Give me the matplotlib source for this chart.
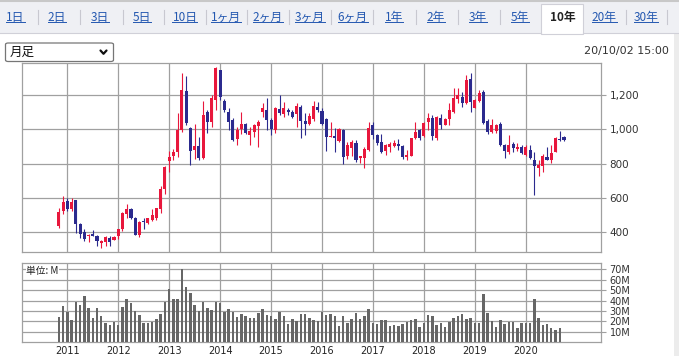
import numpy as np
import matplotlib
matplotlib.use("Agg")
import matplotlib.pyplot as plt
from matplotlib.patches import Rectangle, FancyBboxPatch
from matplotlib.lines import Line2D

# monthly candles, Nov 2010 .. Oct 2020
opens = [439, 523, 582, 537, 588, 449, 404, 376, 390, 380, 337, 341,
         366, 357, 380, 416, 504, 533, 484, 386, 468, 451, 470, 484,
         533, 651, 814, 843, 867, 994, 1223, 1008, 878, 902, 831, 1098,
         1043, 1171, 1343, 1167, 1098, 1053, 945, 1004, 1029, 968, 984, 1020,
         1098, 1112, 1053, 998, 1117, 1086, 1112, 1098, 1086, 1131, 1047, 1029,
         1059, 1131, 1108, 1059, 955, 961, 929, 998, 843, 890, 921, 831,
         831, 882, 1027, 969, 925, 876, 896, 900, 916, 902, 839, 843,
         949, 994, 961, 1043, 1063, 949, 1063, 1027, 1059, 1102, 1176, 1190,
         1151, 1294, 1125, 1165, 1220, 1047, 984, 988, 1033, 910, 866, 916,
         886, 896, 851, 882, 823, 772, 784, 839, 818, 870, 945, 955]
highs = [543, 612, 602, 602, 590, 455, 416, 392, 412, 386, 357, 376,
         376, 380, 419, 519, 563, 543, 490, 465, 484, 484, 533, 543,
         667, 784, 876, 886, 1092, 1327, 1308, 1014, 1033, 955, 1165, 1112,
         1200, 1363, 1347, 1176, 1121, 1063, 1014, 1102, 1039, 1014, 1033, 1053,
         1151, 1180, 1063, 1131, 1200, 1161, 1121, 1112, 1151, 1141, 1092, 1092,
         1165, 1161, 1121, 1067, 1043, 1008, 1008, 1004, 925, 935, 935, 847,
         896, 1043, 1043, 974, 974, 916, 925, 935, 945, 906, 882, 949,
         1043, 1004, 1043, 1092, 1082, 1078, 1086, 1063, 1151, 1239, 1239, 1220,
         1314, 1327, 1176, 1229, 1229, 1059, 1059, 1033, 1043, 916, 965, 925,
         921, 906, 906, 910, 870, 818, 857, 896, 910, 955, 988, 961]
lows = [425, 504, 523, 523, 396, 367, 347, 341, 376, 321, 308, 321,
        317, 355, 361, 406, 484, 478, 386, 372, 416, 445, 465, 470,
        510, 621, 749, 818, 837, 984, 1027, 792, 827, 821, 827, 978,
        1014, 1112, 1171, 1102, 994, 931, 910, 974, 974, 910, 955, 896,
        1073, 998, 968, 978, 1082, 1073, 1082, 1067, 1014, 949, 965, 1023,
        1047, 1102, 1023, 876, 955, 867, 925, 798, 827, 847, 812, 802,
        772, 876, 945, 906, 863, 851, 870, 896, 880, 827, 818, 843,
        941, 935, 955, 994, 935, 935, 1004, 1023, 1027, 1092, 1151, 1131,
        1145, 1098, 1121, 1157, 1033, 974, 978, 980, 900, 831, 857, 866,
        876, 857, 843, 827, 616, 729, 749, 823, 804, 866, 929, 931]
closes = [519, 576, 533, 576, 445, 392, 361, 386, 380, 347, 349, 372,
          341, 372, 416, 510, 537, 484, 386, 459, 459, 480, 498, 539,
          651, 778, 841, 870, 994, 1229, 1039, 874, 902, 831, 1082, 1043,
          1180, 1357, 1186, 1112, 1043, 939, 994, 1033, 980, 990, 1023, 1043,
          1121, 1053, 1004, 1121, 1092, 1121, 1098, 1073, 1137, 1047, 1033, 1078,
          1137, 1115, 1033, 955, 960, 949, 1004, 837, 906, 925, 821, 843,
          886, 1008, 969, 921, 866, 906, 916, 919, 900, 841, 851, 949,
          984, 949, 1037, 1067, 961, 1073, 1027, 1059, 1112, 1180, 1200, 1151,
          1288, 1157, 1171, 1210, 1039, 984, 1023, 1023, 906, 872, 906, 892,
          896, 863, 896, 831, 788, 792, 847, 823, 863, 949, 935, 935]
# volume in millions of shares
volume = [24.6, 34.8, 29.4, 21.4, 39.0, 35.8, 44.4, 33.2, 23.6, 33.2, 25.2, 18.8,
          16.6, 19.8, 16.9, 34.2, 41.5, 38.0, 30.0, 26.2, 18.8, 18.8, 19.8, 22.4,
          27.2, 39.0, 51.1, 41.5, 41.5, 70.3, 53.0, 47.3, 35.8, 30.0, 39.0, 33.2,
          31.0, 39.0, 38.0, 29.4, 32.0, 29.4, 24.6, 27.2, 25.2, 23.6, 23.6, 28.4,
          32.0, 26.2, 25.2, 22.4, 29.4, 25.2, 17.6, 22.4, 20.4, 27.2, 27.2, 23.6,
          21.4, 20.4, 29.4, 26.2, 27.2, 25.2, 16.0, 25.2, 18.8, 22.4, 28.4, 22.4,
          25.2, 32.0, 18.8, 17.6, 21.4, 21.4, 16.0, 16.6, 16.0, 17.6, 19.2, 21.4,
          22.4, 15.0, 18.8, 26.2, 25.2, 16.6, 18.8, 15.0, 19.2, 23.6, 25.2, 27.2,
          22.4, 23.6, 18.8, 18.8, 46.3, 28.4, 20.4, 15.0, 21.4, 17.6, 19.2, 19.2,
          14.0, 18.8, 18.2, 18.8, 41.5, 23.6, 16.6, 17.6, 14.0, 11.8, 14.0, 0.4]
years = ["2011", "2012", "2013", "2014", "2015", "2016", "2017", "2018", "2019", "2020"]
price_ticks = [400, 600, 800, 1000, 1200]
vol_ticks = [10, 20, 30, 40, 50, 60, 70]
tabs = ["1日", "2日", "3日", "5日", "10日", "1ヶ月", "2ヶ月", "3ヶ月", "6ヶ月",
        "1年", "2年", "3年", "5年", "10年", "20年", "30年"]
selected_tab = "10年"

W, H = 679, 356
def fx(px): return px / W
def fy(py): return 1 - py / H

UP, DOWN, GRID = "#e8173c", "#2b2a8e", "#a0a0a0"
jp = ["Noto Sans CJK JP", "DejaVu Sans"]

fig = plt.figure(figsize=(W / 100, H / 100), dpi=100)
fig.patch.set_facecolor("white")

# tab strip
fig.patches.append(Rectangle((0, fy(33)), 1, fy(0) - fy(33), transform=fig.transFigure,
                             facecolor="#eff0f4", edgecolor="none", zorder=0))
fig.add_artist(Line2D([0, 1], [fy(0.5), fy(0.5)], color="#c8c8c8", lw=1.5))
fig.add_artist(Line2D([0, fx(541)], [fy(33), fy(33)], color="#d0d0d8", lw=0.8))
fig.add_artist(Line2D([fx(583), 1], [fy(33), fy(33)], color="#d0d0d8", lw=0.8))
fig.patches.append(Rectangle((fx(541), fy(34)), fx(42), fy(4) - fy(34), transform=fig.transFigure,
                             facecolor="white", edgecolor="#d0d0d8", lw=0.8, zorder=1))
centers = [15.6, 57, 100, 142, 185, 225.6, 268, 310, 352.5, 394, 436, 478, 520, 562.5, 604, 646]
seps = [38, 80, 122.5, 163.7, 205.7, 247, 289, 331, 373, 415.7, 457.7, 500, 625.7, 667]
tab_texts = []
for lab, cx in zip(tabs, centers):
    if lab == selected_tab:
        fig.text(fx(cx), fy(17), lab, ha="center", va="center", fontsize=8.5,
                 family=jp, weight="bold", color="#222222")
    else:
        t = fig.text(fx(cx), fy(17), lab, ha="center", va="center", fontsize=8.5,
                     family=jp, color="#2458b0")
        tab_texts.append(t)
for sx in seps:
    fig.add_artist(Line2D([fx(sx), fx(sx)], [fy(10), fy(24)], color="#c8c8d0", lw=0.8))
fig.patches.append(Rectangle((fx(674), 0), fx(5), fy(34), transform=fig.transFigure,
                             facecolor="#ececec", edgecolor="none", zorder=0))

# dropdown and date
fig.patches.append(FancyBboxPatch((fx(5.5), fy(61.5)), fx(108), fy(43) - fy(61.5),
                                  boxstyle="round,pad=0,rounding_size=0.004",
                                  transform=fig.transFigure, facecolor="white",
                                  edgecolor="#767676", lw=0.9))
fig.text(fx(10), fy(52), "月足", ha="left", va="center", fontsize=9, family=jp, color="#111111")
fig.add_artist(Line2D([fx(100.5), fx(103.5), fx(106.5)], [fy(50.5), fy(53.8), fy(50.5)],
                      color="#111111", lw=1.6, solid_capstyle="round"))
fig.text(fx(669), fy(51), "20/10/02 15:00", ha="right", va="center", fontsize=8, color="#333333")

# price panel
x = np.arange(len(opens))
o, h, l, c = map(np.array, (opens, highs, lows, closes))
colors = np.where(c >= o, UP, DOWN)
ax = fig.add_axes([fx(21.7), fy(252.3), fx(600.5) - fx(21.7), fy(62.5) - fy(252.3)])
ax.vlines(x, l, h, colors=colors, lw=0.8, zorder=3)
body = np.maximum(np.abs(c - o), 6)
ax.bar(x, body, bottom=np.minimum(o, c), width=0.72, color=colors, lw=0, zorder=4)
ax.set_xlim(-8.74, 127.6)
ax.set_ylim(283, 1389)
year_x = np.arange(2, 120, 12)
ax.set_xticks(year_x)
ax.set_xticklabels([])
ax.tick_params(axis="x", length=0)
ax.yaxis.tick_right()
ax.set_yticks(price_ticks)
ax.set_yticklabels([f"{v:,}" for v in price_ticks])
ax.tick_params(axis="y", length=3.6, width=0.8, color=GRID, labelsize=7.5,
               labelcolor="#333333", pad=3)
ax.grid(True, color=GRID, lw=0.9)
ax.set_axisbelow(True)
for s in ax.spines.values():
    s.set_color(GRID)
    s.set_linewidth(0.9)

# volume panel
vx = fig.add_axes([fx(21.7), fy(342.3), fx(600.5) - fx(21.7), fy(263.3) - fy(342.3)])
vx.bar(x, volume, width=0.58, color="#666666", lw=0, zorder=3)
vx.set_xlim(-8.74, 127.6)
vx.set_ylim(0, 75.7)
vx.set_xticks(year_x)
vx.set_xticklabels(years)
vx.tick_params(axis="x", length=0, labelsize=7, labelcolor="#222222", pad=2.5)
vx.yaxis.tick_right()
vx.set_yticks(vol_ticks)
vx.set_yticklabels([f"{v}M" for v in vol_ticks])
vx.tick_params(axis="y", length=3.6, width=0.8, color=GRID, labelsize=7,
               labelcolor="#333333", pad=3)
vx.grid(True, color=GRID, lw=0.9)
vx.set_axisbelow(True)
for s in vx.spines.values():
    s.set_color(GRID)
    s.set_linewidth(0.9)
vx.text(0.008, 0.9, "単位: M", transform=vx.transAxes, ha="left", va="center",
        fontsize=7, family=jp, color="#222222", zorder=5,
        bbox=dict(facecolor="white", edgecolor="none", pad=0.5))

# underline the tab links
fig.canvas.draw()
r = fig.canvas.get_renderer()
inv = fig.transFigure.inverted()
for t in tab_texts:
    bb = t.get_window_extent(r)
    (x0, y0), (x1, y1) = inv.transform([(bb.x0, bb.y0), (bb.x1, bb.y1)])
    fig.add_artist(Line2D([x0, x1], [y0 + 0.004, y0 + 0.004], color="#2458b0", lw=0.7))

fig.savefig("out.png", dpi=100)
